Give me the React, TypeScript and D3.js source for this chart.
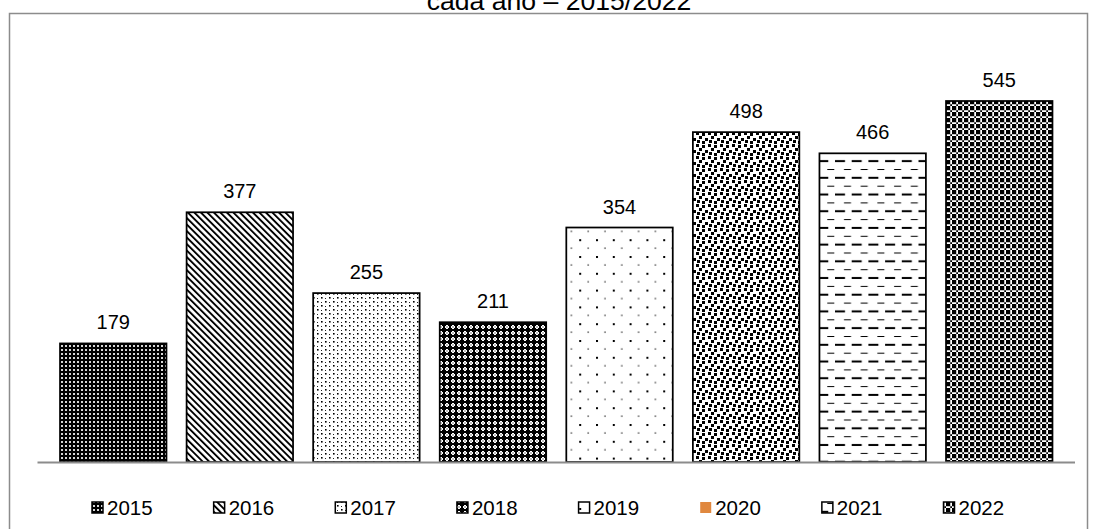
import React from "react";
import * as d3 from "d3";

const years = ["2015", "2016", "2017", "2018", "2019", "2020", "2021", "2022"];
const counts = [179, 377, 255, 211, 354, 498, 466, 545];
const titleLine = "cada ano – 2015/2022";

const W = 1097;
const H = 529;
const FONT = "'Liberation Sans', Arial, sans-serif";

function Patterns() {
  return (
    <defs>
      {/* 2015: dark field with a grid of light specks */}
      <pattern id="p2015" patternUnits="userSpaceOnUse" width="4" height="4">
        <rect width="4" height="4" fill="#000" />
        <rect x="1" y="1" width="2" height="2" fill="#d8d8d8" />
      </pattern>
      {/* 2016: wide downward diagonal */}
      <pattern id="p2016" patternUnits="userSpaceOnUse" width="4.6" height="4.6" patternTransform="rotate(-45)">
        <rect width="4.6" height="4.6" fill="#fff" />
        <rect width="1.9" height="4.6" fill="#000" />
      </pattern>
      {/* 2017: scattered small dots */}
      <pattern id="p2017" patternUnits="userSpaceOnUse" width="8" height="8">
        <rect width="8" height="8" fill="#fff" />
        <rect x="1" y="1" width="1.6" height="1.6" fill="#000" />
        <rect x="5" y="5" width="1.6" height="1.6" fill="#000" />
        <rect x="5" y="2" width="1" height="1" fill="#222" />
        <rect x="1" y="6" width="1" height="1" fill="#222" />
      </pattern>
      {/* 2018: dark field with light diamonds */}
      <pattern id="p2018" patternUnits="userSpaceOnUse" width="6" height="6">
        <rect width="6" height="6" fill="#000" />
        <rect x="2" y="1" width="2" height="4" fill="#fff" />
        <rect x="1" y="2" width="4" height="2" fill="#fff" />
        <rect x="2.5" y="2.5" width="1" height="1" fill="#000" />
      </pattern>
      {/* 2019: sparse dots, large and small rows */}
      <pattern id="p2019" patternUnits="userSpaceOnUse" width="16.8" height="16.8" x="8" y="4">
        <rect width="16.8" height="16.8" fill="#fff" />
        <rect x="0" y="0" width="2" height="2" fill="#000" />
        <rect x="8.4" y="8.4" width="1.2" height="1.2" fill="#000" />
      </pattern>
      {/* 2020: large confetti */}
      <pattern id="p2020" patternUnits="userSpaceOnUse" width="12" height="12">
        <rect width="12" height="12" fill="#fff" />
        <rect x="0" y="0" width="3" height="3" fill="#000" />
        <rect x="6" y="1" width="3" height="3" fill="#000" />
        <rect x="3" y="4" width="3" height="3" fill="#000" />
        <rect x="9" y="6" width="3" height="3" fill="#000" />
        <rect x="1" y="8" width="3" height="3" fill="#000" />
        <rect x="6" y="9" width="3" height="3" fill="#000" />
      </pattern>
      {/* 2021: dashed horizontal rows */}
      <pattern id="p2021" patternUnits="userSpaceOnUse" width="16.7" height="16.7" x="0" y="2">
        <rect width="16.7" height="16.7" fill="#fff" />
        <rect x="9" y="0" width="7" height="1" fill="#000" />
        <rect x="0" y="7.8" width="10" height="2" fill="#000" />
      </pattern>
      {/* 2022: fine checkerboard */}
      <pattern id="p2022" patternUnits="userSpaceOnUse" width="6" height="6">
        <rect width="6" height="6" fill="#fff" />
        <rect x="0" y="0" width="2" height="2" fill="#000" />
        <rect x="4" y="0" width="2" height="2" fill="#000" />
        <rect x="2" y="2" width="2" height="2" fill="#000" />
        <rect x="0" y="4" width="2" height="2" fill="#000" />
        <rect x="4" y="4" width="2" height="2" fill="#000" />
        <rect x="0" y="2" width="6" height="0.8" fill="#808080" opacity="0.6" />
        <rect x="2" y="0" width="0.8" height="6" fill="#808080" opacity="0.6" />
      </pattern>
    </defs>
  );
}

// Legend swatch fills; 2020 keeps its plain orange legend entry
const legendFill = (y: string) => (y === "2020" ? "#E0883F" : `url(#p${y})`);

export default function App() {
  const x = d3.scaleBand<string>().domain(years).range([37.5, 1075]).paddingInner(0.159).paddingOuter(0.178);
  const y = d3.scaleLinear().domain([0, 600]).range([462, 462 - 600 * (361 / 545)]);

  const legendX = d3.scaleLinear().domain([0, years.length - 1]).range([92, 943.5]);

  return (
    <svg
      width={W}
      height={H}
      style={{ position: "absolute", left: 0, top: 0, background: "#fff" }}
      fontFamily={FONT}
    >
      <Patterns />
      <rect width={W} height={H} fill="#fff" />

      {/* chart frame */}
      <rect x={9.5} y={13.5} width={1078} height={540} fill="none" stroke="#8c8c8c" strokeWidth={1.5} />

      <text x={559} y={9.5} textAnchor="middle" fontSize={26.6} fill="#000">
        {titleLine}
      </text>

      {years.map((yr, i) => {
        const bx = x(yr)!;
        const top = y(counts[i]);
        return (
          <g key={yr}>
            <rect
              x={bx}
              y={top}
              width={x.bandwidth()}
              height={y(0) - top}
              fill={`url(#p${yr})`}
              stroke="#000"
              strokeWidth={1.75}
            />
            <text x={bx + x.bandwidth() / 2} y={top - 14} textAnchor="middle" fontSize={20} fill="#000">
              {counts[i]}
            </text>
          </g>
        );
      })}

      {/* category axis */}
      <line x1={37.5} x2={1075} y1={462.5} y2={462.5} stroke="#8c8c8c" strokeWidth={2} />

      {/* legend */}
      {years.map((yr, i) => {
        const lx = legendX(i);
        return (
          <g key={"lg" + yr}>
            <rect
              x={lx}
              y={502}
              width={11}
              height={11}
              fill={legendFill(yr)}
              stroke={yr === "2020" ? "none" : "#000"}
              strokeWidth={1.5}
            />
            <text x={lx + 15} y={514.5} fontSize={20.5} fill="#000">
              {yr}
            </text>
          </g>
        );
      })}
    </svg>
  );
}
